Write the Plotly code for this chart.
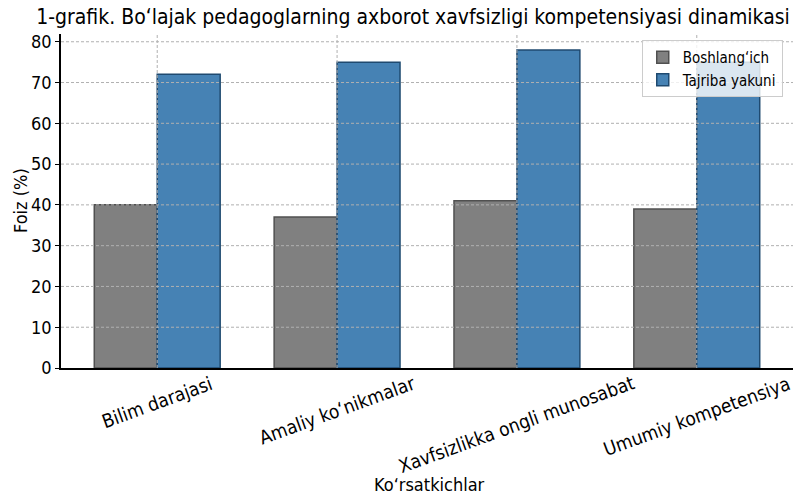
import plotly.graph_objects as go

categories = ["Bilim darajasi", "Amaliy ko‘nikmalar", "Xavfsizlikka ongli munosabat", "Umumiy kompetensiya"]
boshlangich = [40, 37, 41, 39]
tajriba = [72, 75, 78, 75]
y_ticks = [0, 10, 20, 30, 40, 50, 60, 70, 80]

FONT = "DejaVu Sans Condensed, DejaVu Sans"
xpos = list(range(len(categories)))

fig = go.Figure()
fig.add_trace(go.Bar(x=xpos, y=boshlangich, name="Boshlang‘ich",
                     marker=dict(color="#808080", line=dict(color="#505050", width=1.5))))
fig.add_trace(go.Bar(x=xpos, y=tajriba, name="Tajriba yakuni",
                     marker=dict(color="#4682b4", line=dict(color="#1f4a70", width=1.5))))

shapes = []
for t in y_ticks[1:]:
    shapes.append(dict(type="line", xref="paper", yref="y", x0=0, x1=1, y0=t, y1=t,
                       line=dict(color="#b0b0b0", width=1, dash="3px,2px"), layer="above"))
for i in xpos:
    shapes.append(dict(type="line", xref="x", yref="paper", x0=i, x1=i, y0=0, y1=1,
                       line=dict(color="#b0b0b0", width=1, dash="3px,2px"), layer="above"))

annotations = []
for i, c in zip(xpos, categories):
    annotations.append(dict(x=i, y=0, xref="x", yref="paper", text=c, showarrow=False,
                            textangle=-20, xanchor="center", yanchor="top", yshift=-1,
                            font=dict(family=FONT, size=19, color="#000")))
annotations.append(dict(x=0, y=0, xref="paper", yref="paper", text="Ko‘rsatkichlar",
                        showarrow=False, xanchor="center", yanchor="middle", yshift=-116,
                        xshift=429 - 61,
                        font=dict(family=FONT, size=18, color="#000")))
annotations.append(dict(x=0, y=0, xref="paper", yref="paper", text="Foiz (%)",
                        showarrow=False, xanchor="center", yanchor="middle", xshift=20 - 61,
                        yshift=368 - 201,
                        textangle=-90, font=dict(family=FONT, size=18, color="#000")))

fig.update_layout(
    width=796, height=495,
    margin=dict(l=61, r=3, t=34, b=127),
    paper_bgcolor="white", plot_bgcolor="white",
    barmode="group", bargap=0.3, bargroupgap=0,
    title=dict(text="1-grafik. Bo‘lajak pedagoglarning axborot xavfsizligi kompetensiyasi dinamikasi",
               x=413/796, xref="container", xanchor="center", y=1-17/495, yanchor="middle",
               font=dict(family=FONT, size=21, color="#000")),
    font=dict(family=FONT, color="#000"),
    xaxis=dict(range=[-0.535, 3.535], showticklabels=False, showgrid=False, zeroline=False,
               showline=True, linecolor="#000", linewidth=1.5, ticks="", fixedrange=True,
               automargin=False),
    yaxis=dict(range=[0, 81.9], tickvals=y_ticks, showgrid=False, zeroline=False,
               showline=True, linecolor="#000", linewidth=1.5, ticks="outside", ticklen=4,
               tickcolor="#000", tickfont=dict(family=FONT, size=18, color="#000"),
               automargin=False),
    legend=dict(x=0.986, y=0.982, xanchor="right", yanchor="top",
                bgcolor="rgba(255,255,255,0.8)", bordercolor="#cccccc", borderwidth=1,
                font=dict(family=FONT, size=15, color="#000"), tracegroupgap=0),
    shapes=shapes, annotations=annotations,
)

fig.write_html("out.html", config={"displayModeBar": False},
               post_script="document.body.style.margin='0';document.body.style.padding='0';")
